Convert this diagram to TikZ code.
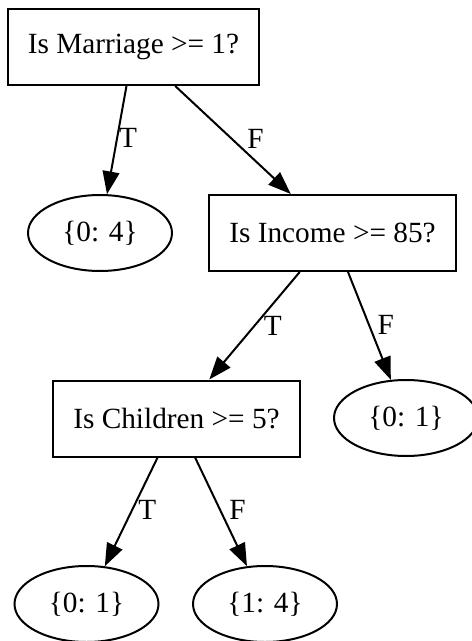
\documentclass[tikz,border=0pt]{standalone}
\usepackage{fontspec}
\setmainfont{Liberation Serif}
\usetikzlibrary{arrows.meta,shapes.geometric}
\newcommand{\treefont}{\fontsize{14.65pt}{17pt}\selectfont}
\tikzset{
  testbox/.style={draw,line width=1pt,rectangle,minimum height=38pt,inner xsep=10pt,inner ysep=0pt,font=\treefont},
  leafnode/.style={draw,line width=1pt,ellipse,minimum width=72pt,minimum height=38pt,inner sep=0pt,font=\treefont},
  treearrow/.style={-{Triangle[length=11.4pt,width=8.4pt]},line width=1pt},
  edgelabel/.style={inner sep=0pt,font=\treefont}
}
\begin{document}
\begin{tikzpicture}[x=0.5pt,y=-0.5pt]
\useasboundingbox (0,0) rectangle (471,641);
\node[testbox] (marr) at (133.5,47) {Is Marriage >= 1?};
\node[leafnode] (leafa) at (100,233) {\{0: 4\}};
\node[testbox] (income) at (332.5,233) {Is Income >= 85?};
\node[testbox] (child) at (176.5,418.5) {Is Children >= 5?};
\node[leafnode] (leafb) at (406,418) {\{0: 1\}};
\node[leafnode] (leafc) at (86.5,604) {\{0: 1\}};
\node[leafnode] (leafd) at (265,604) {\{1: 4\}};
\draw[treearrow] (marr) -- node[edgelabel,xshift=5.7pt,yshift=1pt] {T} (leafa);
\draw[treearrow] (marr) -- node[edgelabel,xshift=11.2pt,yshift=0.5pt] {F} (income);
\draw[treearrow] (income) -- node[edgelabel,xshift=9.2pt] {T} (child);
\draw[treearrow] (income) -- node[edgelabel,xshift=8.2pt,yshift=0.5pt] {F} (leafb);
\draw[treearrow] (child) -- node[edgelabel,xshift=8pt,yshift=1.2pt] {T} (leafc);
\draw[treearrow] (child) -- node[edgelabel,xshift=8.2pt,yshift=1.2pt] {F} (leafd);
\end{tikzpicture}
\end{document}
